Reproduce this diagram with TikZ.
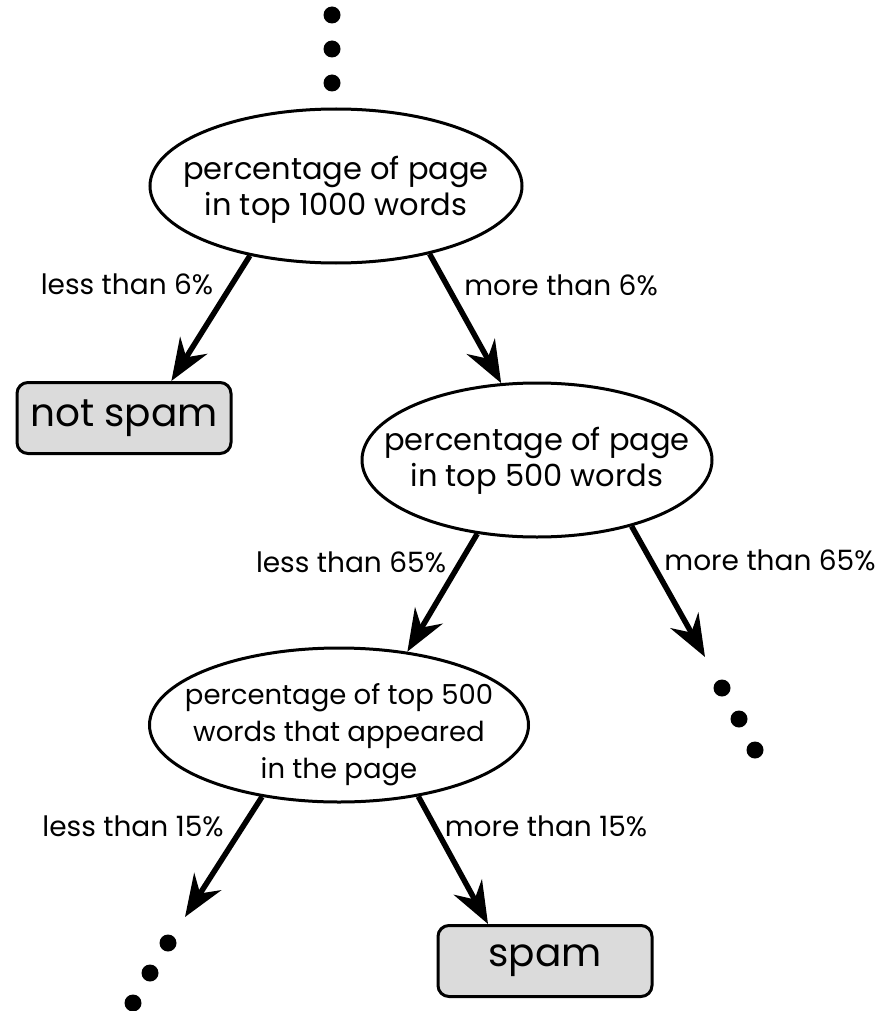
\documentclass[tikz,border=0pt]{standalone}
\usepackage{fontspec}
\setmainfont{Poppins}
\usetikzlibrary{arrows.meta,shapes.geometric}
\tikzset{
  qnode/.style={ellipse, draw=black, line width=3pt, fill=white, inner sep=0pt},
  qtext/.style={align=center, inner sep=0pt, font=\fontsize{30.5}{36}\selectfont},
  leafbox/.style={rectangle, rounded corners=11pt, draw=black, line width=3pt, fill=black!14,
    inner sep=0pt, minimum width=214pt, minimum height=71pt, font=\fontsize{39}{44}\selectfont},
  branch/.style={line width=5.5pt, -{Stealth[length=42pt,width=32pt,inset=14pt]}},
  elabel/.style={font=\fontsize{28}{32}\selectfont, inner sep=0pt},
  dot/.style={circle, fill=black, inner sep=0pt, minimum size=17pt},
}
\begin{document}
\begin{tikzpicture}[x=1pt,y=-1pt]
\useasboundingbox (0,0) rectangle (891,1011);
% top dots
\node[dot] (a1) at (332,15) {};
\node[dot] (a2) at (332,49) {};
\node[dot] (a3) at (332,83) {};
% question nodes
\node[qnode, minimum width=372pt, minimum height=154pt,
  label={[qtext, yshift=-4pt]center:{percentage of page\\in top 1000 words}}] (e1) at (336,186) {};
\node[qnode, minimum width=350pt, minimum height=154pt,
  label={[qtext, yshift=-1pt]center:{percentage of page\\in top 500 words}}] (e2) at (537,460) {};
\node[qnode, minimum width=379pt, minimum height=154pt,
  label={[qtext, font=\fontsize{27.5}{37}\selectfont, yshift=-10pt]center:{percentage of top 500\\words that appeared\\in the page}}] (e3) at (339,725) {};
% leaves
\node[leafbox] (ns) at (124,418) {not spam};
\node[leafbox] (sp) at (545,961) {spam};
% right dots
\node[dot] (r1) at (722,688) {};
\node[dot] (r2) at (739,719) {};
\node[dot] (r3) at (755,750) {};
% left dots
\node[dot] (l1) at (168,943) {};
\node[dot] (l2) at (150,973) {};
\node[dot] (l3) at (133,1003) {};
% free arrow ends
\coordinate (t4) at (705,657);
\coordinate (t5) at (185,917);
% arrows
\draw[branch] (e1.219) -- (ns.38);
\draw[branch] (e1.324) -- (e2.115);
\draw[branch] (e2.231) -- (e3.47);
\draw[branch] (e2.325) -- (t4);
\draw[branch] (e3.223) -- (t5);
\draw[branch] (e3.318) -- (sp.147);
% labels
\node[elabel] (l6a) at (127,284) {less than 6\%};
\node[elabel] (l6b) at (561,285) {more than 6\%};
\node[elabel] (l65a) at (351,562) {less than 65\%};
\node[elabel] (l65b) at (770,560) {more than 65\%};
\node[elabel] (l15a) at (133,826) {less than 15\%};
\node[elabel] (l15b) at (546,826) {more than 15\%};
\end{tikzpicture}
\end{document}
